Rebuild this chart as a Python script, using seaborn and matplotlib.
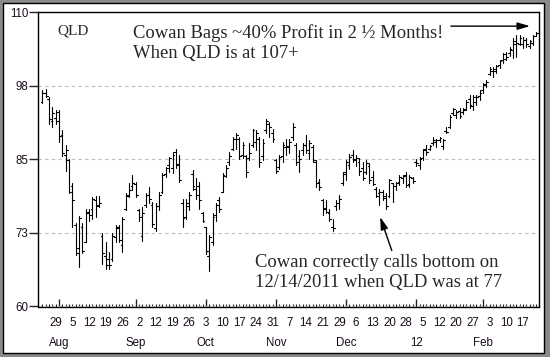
import pandas as pd
import matplotlib
matplotlib.use('Agg')
import matplotlib.pyplot as plt
from matplotlib.patches import Rectangle
import seaborn as sns

# QLD daily bars, 25 Jul 2011 - 24 Feb 2012
opens = [94.8, 96.2, 95.3, 91.5, 92.0, 93.0, 89.2, 85.8, 84.8, 80.5,
         73.8, 70.0, 73.5, 71.0, 76.0, 76.5, 78.0, 77.2, 72.0, 68.5,
         68.0, 68.0, 71.8, 73.5, 70.5, 76.5, 78.8, 80.5, 80.8, 76.3,
         72.0, 77.3, 79.0, 77.3, 73.3, 77.0, 79.5, 82.5, 84.0, 83.5,
         86.2, 84.2, 77.5, 75.2, 77.5, 82.5, 80.0, 80.5, 75.8, 73.5,
         68.5, 71.0, 75.5, 78.0, 79.5, 82.2, 84.5, 86.8, 88.5, 88.5,
         85.8, 85.5, 85.2, 87.5, 88.0, 88.5, 85.5, 90.0, 91.0, 89.5,
         84.8, 83.6, 85.5, 87.0, 87.0, 88.8, 87.5, 85.5, 86.5, 87.5,
         86.0, 87.0, 84.5, 81.2, 78.0, 76.8, 75.8, 73.5, 77.0, 77.5,
         81.0, 82.8, 84.0, 85.8, 84.8, 84.5, 83.5, 82.8, 83.8, 82.0,
         80.0, 79.2, 79.5, 78.8, 78.8, 81.0, 80.5, 81.2, 81.8, 82.3,
         80.8, 81.8, 84.5, 84.0, 85.2, 86.8, 86.8, 87.8, 88.0, 88.2,
         87.2, 89.8, 90.5, 92.8, 92.5, 93.2, 93.0, 93.5, 95.3, 94.0,
         94.8, 95.8, 96.8, 97.8, 99.5, 100.0, 100.0, 101.0, 101.8, 102.0,
         103.0, 103.5, 105.0, 104.5, 104.5, 105.2, 104.3, 104.8, 106.0]
highs = [96.8, 96.9, 95.6, 93.8, 93.4, 93.4, 89.9, 87.4, 85.0, 80.9,
         74.1, 75.3, 74.1, 76.6, 76.6, 78.6, 78.7, 78.7, 72.4, 70.9,
         69.2, 72.4, 73.8, 73.8, 75.2, 79.2, 80.9, 82.3, 81.1, 76.6,
         76.9, 79.2, 80.3, 77.7, 77.5, 79.4, 82.6, 83.7, 85.4, 86.3,
         86.8, 85.8, 78.3, 78.3, 79.4, 83.1, 81.9, 81.1, 76.0, 73.5,
         72.1, 75.8, 77.5, 78.6, 82.6, 84.0, 86.2, 88.8, 89.4, 88.8,
         87.9, 85.8, 87.7, 90.2, 89.9, 88.8, 88.5, 91.9, 91.3, 90.2,
         85.1, 85.7, 87.9, 88.5, 88.4, 91.1, 87.7, 86.5, 87.7, 89.1,
         88.2, 87.5, 84.8, 81.7, 78.3, 78.0, 76.6, 74.9, 78.0, 78.9,
         82.8, 84.8, 85.9, 86.5, 85.7, 85.2, 84.5, 84.8, 84.3, 83.0,
         80.3, 80.0, 79.7, 79.2, 81.7, 80.9, 81.2, 82.3, 82.4, 82.8,
         82.3, 82.0, 85.1, 85.4, 86.8, 87.4, 87.4, 88.8, 88.5, 88.8,
         88.5, 90.4, 92.5, 93.7, 93.3, 93.7, 93.7, 95.0, 95.9, 95.9,
         95.9, 96.7, 97.9, 98.4, 100.6, 100.6, 101.0, 101.8, 103.0, 103.2,
         104.0, 105.6, 106.1, 106.1, 105.7, 105.6, 105.2, 106.1, 106.6]
lows = [94.6, 95.5, 91.0, 90.4, 90.9, 88.0, 85.5, 83.0, 79.2, 73.5,
        68.7, 66.7, 69.0, 70.9, 74.6, 74.9, 75.2, 76.9, 67.3, 66.4,
        66.4, 67.8, 70.9, 70.9, 69.2, 76.3, 78.6, 79.8, 78.6, 74.6,
        71.2, 76.9, 77.5, 73.5, 72.9, 76.3, 79.2, 82.0, 82.8, 82.6,
        83.5, 81.1, 73.5, 74.9, 76.3, 79.7, 78.3, 76.6, 74.3, 68.9,
        66.1, 70.4, 74.6, 76.0, 79.4, 82.0, 84.0, 86.5, 86.8, 85.1,
        85.2, 82.0, 84.8, 87.1, 86.5, 83.6, 84.8, 89.4, 88.8, 88.0,
        82.6, 83.4, 84.5, 85.7, 86.0, 88.2, 84.0, 82.8, 85.7, 86.0,
        85.1, 84.5, 80.3, 79.7, 75.5, 75.8, 74.6, 72.9, 76.3, 76.6,
        80.6, 81.4, 83.4, 84.5, 83.8, 82.3, 81.4, 82.5, 80.9, 80.6,
        78.6, 77.2, 78.0, 76.6, 78.6, 77.8, 79.8, 80.6, 80.9, 80.3,
        80.3, 81.0, 83.8, 83.4, 84.8, 85.7, 86.5, 87.4, 87.1, 87.9,
        86.8, 89.4, 90.3, 92.5, 92.0, 92.0, 92.7, 93.3, 93.7, 93.3,
        94.2, 95.0, 96.2, 97.2, 99.3, 98.9, 99.6, 100.5, 101.3, 101.8,
        102.5, 102.2, 102.3, 104.4, 103.9, 104.0, 103.9, 104.4, 105.9]
closes = [96.3, 95.8, 91.8, 92.8, 91.5, 89.0, 86.0, 86.5, 79.5, 78.0,
          69.0, 75.0, 69.5, 75.8, 75.5, 78.3, 77.0, 77.5, 69.0, 67.0,
          67.0, 72.0, 73.3, 71.3, 74.8, 79.0, 79.8, 81.0, 79.0, 75.2,
          75.8, 79.0, 78.2, 74.0, 77.0, 79.0, 82.3, 83.5, 85.2, 85.8,
          84.0, 81.5, 75.0, 77.0, 79.0, 80.5, 79.0, 78.0, 74.5, 69.5,
          71.8, 75.2, 77.3, 76.5, 82.3, 83.5, 85.5, 88.5, 89.2, 85.5,
          87.5, 82.8, 86.0, 90.0, 89.5, 84.5, 87.8, 91.5, 90.5, 88.4,
          83.0, 85.3, 87.5, 87.3, 88.0, 90.5, 84.5, 85.0, 87.4, 86.5,
          87.8, 84.8, 81.0, 80.3, 76.5, 76.0, 74.8, 73.3, 77.5, 78.2,
          82.5, 84.5, 85.3, 85.0, 85.2, 83.0, 81.8, 84.3, 81.5, 80.8,
          78.8, 79.5, 78.5, 77.0, 81.5, 80.5, 81.0, 82.0, 82.2, 80.6,
          82.0, 81.3, 84.3, 85.0, 86.5, 86.2, 87.2, 88.3, 88.2, 88.6,
          88.3, 89.6, 92.2, 93.5, 93.0, 92.4, 93.4, 94.8, 94.2, 95.5,
          95.6, 96.3, 97.6, 98.2, 100.4, 100.3, 100.8, 101.6, 102.8, 102.3,
          103.8, 104.6, 104.8, 105.6, 105.3, 104.5, 105.0, 105.9, 106.5]

holidays = ['2011-09-05', '2011-11-24', '2011-12-26', '2012-01-02',
            '2012-01-16', '2012-02-20']
day_label_dates = ['2011-07-29', '2011-08-05', '2011-08-12', '2011-08-19',
                   '2011-08-26', '2011-09-02', '2011-09-12', '2011-09-19',
                   '2011-09-26', '2011-10-03', '2011-10-10', '2011-10-17',
                   '2011-10-24', '2011-10-31', '2011-11-07', '2011-11-14',
                   '2011-11-21', '2011-11-29', '2011-12-06', '2011-12-13',
                   '2011-12-20', '2011-12-28', '2012-01-05', '2012-01-12',
                   '2012-01-20', '2012-01-27', '2012-02-03', '2012-02-10',
                   '2012-02-17']
month_start_dates = ['2011-08-01', '2011-09-01', '2011-10-03', '2011-11-01',
                     '2011-12-01', '2012-01-03', '2012-02-01']
month_labels = ['Aug', 'Sep', 'Oct', 'Nov', 'Dec', '12', 'Feb']
y_ticks = [60, 72.5, 85, 97.5, 110]
y_tick_labels = ['60', '73', '85', '98', '110']

dates = pd.bdate_range('2011-07-25', '2012-02-24', freq='C', holidays=holidays)
pos = {d: i for i, d in enumerate(dates)}

# one row per segment end: high-low stick, open tick left, close tick right
rows = []
for i in range(len(dates)):
    rows += [(3 * i, i, lows[i]), (3 * i, i, highs[i]),
             (3 * i + 1, i - 0.55, opens[i]), (3 * i + 1, i, opens[i]),
             (3 * i + 2, i, closes[i]), (3 * i + 2, i + 0.55, closes[i])]
seg = pd.DataFrame(rows, columns=['seg', 'x', 'price'])

sns.set_style('white')
plt.rcParams['font.family'] = ['Liberation Sans', 'DejaVu Sans']
serif = ['Liberation Serif', 'DejaVu Serif']
txt_color = '#1a0a1a'

fig = plt.figure(figsize=(5.5, 3.57), dpi=100)
fig.patch.set_facecolor('#8a8a8a')
fig.patches.append(Rectangle((3 / 550, 4 / 357), 541 / 550, 350 / 357,
                             transform=fig.transFigure, facecolor='white',
                             edgecolor='black', lw=1, zorder=-5))
ax = fig.add_axes([38 / 550, 50.5 / 357, 501 / 550, 294.5 / 357])
ax.set_zorder(2)

sns.lineplot(data=seg, x='x', y='price', units='seg', estimator=None,
             sort=False, color='black', lw=0.8, ax=ax)

ax.set_xlim(-1.3, 148.8)
ax.set_ylim(60, 110)
ax.set_xlabel('')
ax.set_ylabel('')
for s in ax.spines.values():
    s.set_visible(True)
    s.set_color('black')
    s.set_linewidth(1.0)

ax.set_yticks(y_ticks, y_tick_labels)
ax.tick_params(axis='y', direction='out', length=6.5, width=1, pad=0.5,
               labelsize=8.3, labelcolor=txt_color, left=True)
ax.yaxis.grid(True, ls=(0, (3, 3)), color='#bdbdbd', lw=0.8)
ax.set_axisbelow(True)

# month starts: long ticks pointing up, month names on the lower row
ax.set_xticks([pos[pd.Timestamp(d)] for d in month_start_dates], month_labels)
ax.set_xticks(range(len(dates)), minor=True)
ax.tick_params(axis='x', which='major', direction='in', length=5.5, width=1,
               bottom=True, pad=22, labelsize=8.3, labelcolor=txt_color)
ax.tick_params(axis='x', which='minor', direction='in', length=2, width=0.8,
               bottom=True)

# weekly day numbers on the upper row
sec = ax.secondary_xaxis('bottom')
sec.set_xticks([pos[pd.Timestamp(d)] for d in day_label_dates],
               [str(pd.Timestamp(d).day) for d in day_label_dates])
sec.tick_params(length=0, pad=7.5, labelsize=8.3, labelcolor=txt_color)
sec.spines['bottom'].set_visible(False)

ax.text(0.038, 0.925, 'QLD', transform=ax.transAxes, family=serif,
        fontsize=11, va='baseline')
ax.text(0.19, 0.911, 'Cowan Bags ~40% Profit in 2 ½ Months!',
        transform=ax.transAxes, family=serif, fontsize=13.4, va='baseline')
ax.text(0.19, 0.843, 'When QLD is at 107+', transform=ax.transAxes,
        family=serif, fontsize=13.4, va='baseline')
ax.text(0.433, 0.134, 'Cowan correctly calls bottom on',
        transform=ax.transAxes, family=serif, fontsize=13.4, va='baseline')
ax.text(0.433, 0.067, '12/14/2011 when QLD was at 77',
        transform=ax.transAxes, family=serif, fontsize=13.4, va='baseline')

head = '-|>,head_length=0.75,head_width=0.22'
ax.annotate('', xy=(146.1, 107.6), xytext=(122.4, 107.6),
            arrowprops=dict(arrowstyle=head, color='black', lw=1,
                            mutation_scale=10, shrinkA=0, shrinkB=0))
ax.annotate('', xy=(101.2, 75.2), xytext=(104.7, 69.5),
            arrowprops=dict(arrowstyle=head, color='black', lw=1,
                            mutation_scale=10, shrinkA=0, shrinkB=0))

fig.savefig('out.png', dpi=100, facecolor=fig.get_facecolor())
